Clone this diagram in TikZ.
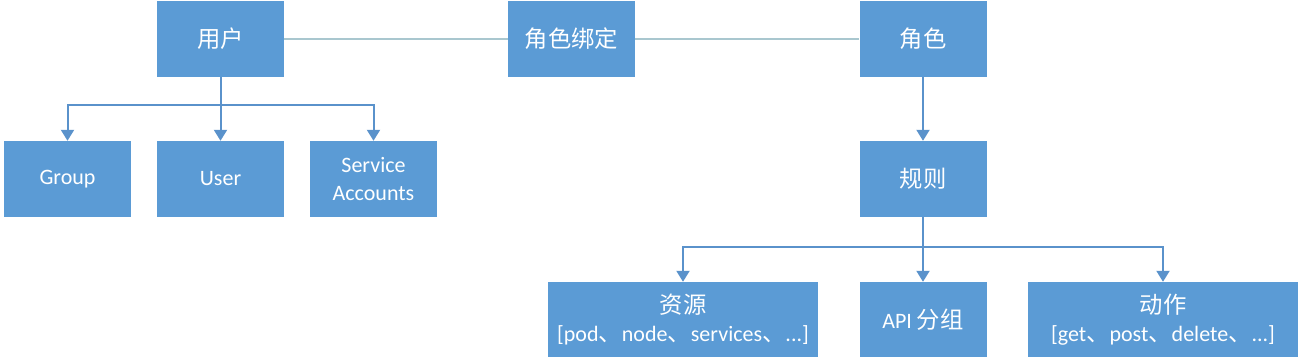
\documentclass[tikz,border=0pt]{standalone}
\usepackage{fontspec}
\usepackage{xcolor}
\setmainfont{Carlito}
\newfontfamily\cjk[Scale=1.06]{Noto Sans CJK SC}
\usetikzlibrary{arrows.meta}

\definecolor{boxblue}{HTML}{5B9BD5}
\definecolor{arrowblue}{HTML}{5A92CB}
\definecolor{linegray}{HTML}{A9C7CF}

\tikzset{
  box/.style={fill=boxblue, text=white, minimum width=127pt, minimum height=76pt,
    inner sep=0pt, align=center, font=\fontsize{22}{28}\selectfont},
  widebox/.style={box, minimum width=270pt},
  link/.style={draw=linegray, line width=2pt},
  arrow/.style={draw=arrowblue, line width=2pt, -{Triangle[width=13pt,length=11pt]}},
}

\begin{document}
\begin{tikzpicture}[x=1pt, y=-1pt]
    \useasboundingbox (0,0) rectangle (1302,361);
    % top row
    \node[box] (yonghu) at (220.5,39) {\cjk 用户};
    \node[box] (bangding) at (571.5,39) {\cjk 角色绑定};
    \node[box] (juese) at (923,39) {\cjk 角色};
    % subjects
    \node[box] (group) at (67.5,179) {Group};
    \node[box] (user) at (220.5,179) {User};
    \node[box] (sa) at (373.5,179) {Service\\Accounts};
    % rules
    \node[box] (guize) at (923,179) {\cjk 规则};
    \node[widebox, minimum height=75pt] (ziyuan) at (683,319.5)
        {{\cjk 资源}\\{[pod}{\cjk 、}node{\cjk 、}services{\cjk 、}...]};
    \node[box, minimum height=75pt] (apigroup) at (923,319.5) {API {\cjk 分组}};
    \node[widebox, minimum height=75pt] (dongzuo) at (1163,319.5)
        {{\cjk 动作}\\{[get}{\cjk 、}post{\cjk 、}delete{\cjk 、}...]};
    % branch points
    \coordinate (ubr) at (220.5,105);
    \coordinate (gbr) at (923,247);

    \draw[link] (yonghu) -- (bangding);
    \draw[link] (bangding) -- (juese);
    \draw[arrow] (juese) -- (guize);

    \draw[arrow] (yonghu.south) -- (user.north);
    \draw[arrow] (yonghu.south) -- (ubr) -| (group.north);
    \draw[arrow] (yonghu.south) -- (ubr) -| (sa.north);

    \draw[arrow] (guize.south) -- (apigroup.north);
    \draw[arrow] (guize.south) -- (gbr) -| (ziyuan.north);
    \draw[arrow] (guize.south) -- (gbr) -| (dongzuo.north);
\end{tikzpicture}
\end{document}
